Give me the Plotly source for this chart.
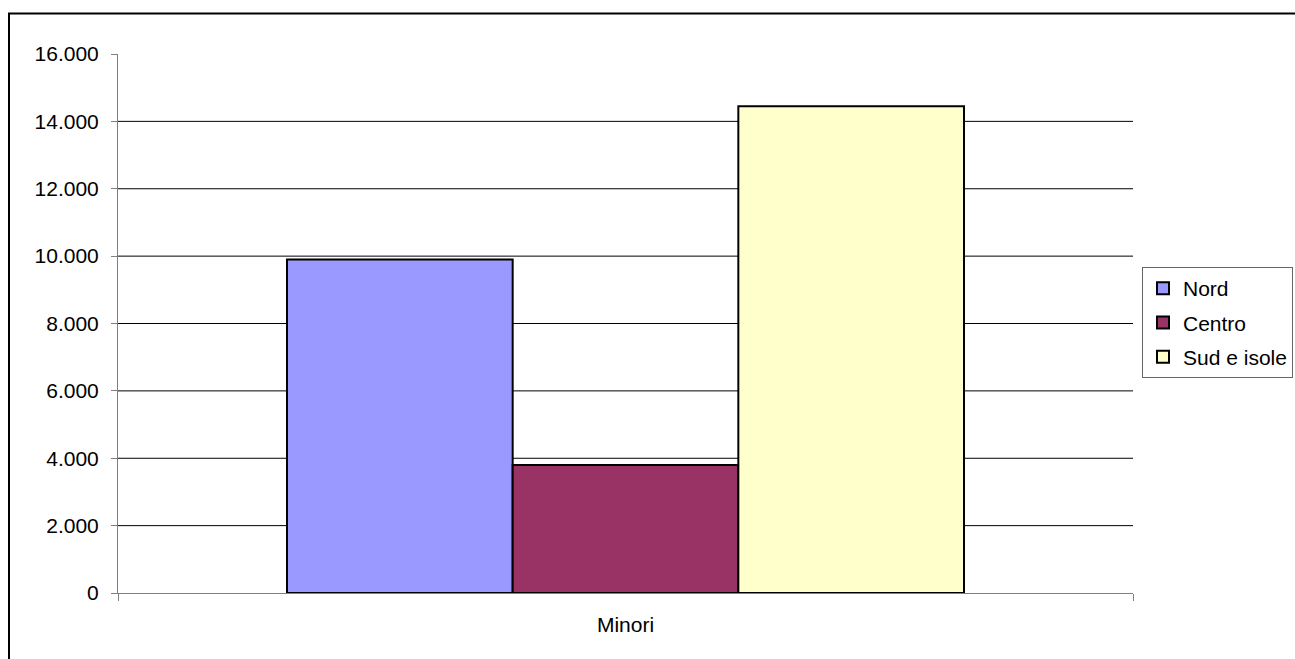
import plotly.graph_objects as go

categories = ["Minori"]
series_names = ["Nord", "Centro", "Sud e isole"]
series_values = [[9900], [3800], [14450]]
series_colors = ["#9999FF", "#993366", "#FFFFCC"]
y_ticks = [0, 2000, 4000, 6000, 8000, 10000, 12000, 14000, 16000]

FONT = "Liberation Sans, Arial, sans-serif"
W, H = 1295, 659
L, R, T, B = 118, 1133, 54, 593

fig = go.Figure()
for name, vals, col in zip(series_names, series_values, series_colors):
    fig.add_trace(go.Bar(
        x=categories, y=vals, name=name,
        marker=dict(color=col, line=dict(color="#000000", width=2)),
        legendgroup=name,
    ))

# gridlines (interior ticks only)
for v in y_ticks[1:-1]:
    fig.add_shape(type="line", xref="paper", x0=0, x1=1, yref="y", y0=v, y1=v,
                  line=dict(color="#000000", width=1), layer="below")

pw, ph = R - L, B - T
# outer chart border
fig.add_shape(type="rect", xref="paper", yref="paper",
              x0=(9 - L) / pw, x1=(W + 10 - L) / pw,
              y0=(B - (H + 10)) / ph, y1=(B - 13.5) / ph,
              line=dict(color="#000000", width=2), fillcolor="rgba(0,0,0,0)", layer="above")

fig.update_layout(
    width=W, height=H,
    margin=dict(l=L, r=W - R, t=T, b=H - B, pad=0, autoexpand=False),
    paper_bgcolor="white", plot_bgcolor="white",
    separators=",.",
    barmode="group", bargap=0.333, bargroupgap=0,
    font=dict(family=FONT, size=21, color="#000000"),
    showlegend=True,
    legend=dict(
        x=(1142 - L) / pw, y=(B - 267) / ph, xanchor="left", yanchor="top",
        bordercolor="#666666", borderwidth=1, bgcolor="white",
        font=dict(family=FONT, size=21, color="#000000"),
        itemwidth=30, traceorder="grouped", tracegroupgap=4,
    ),
    xaxis=dict(
        type="category", range=[-0.5, 0.5],
        showline=True, linecolor="#808080", linewidth=1,
        ticks="outside", tickson="boundaries", ticklen=7, tickcolor="#808080",
        ticklabelstandoff=13, showgrid=False, zeroline=False,
        tickfont=dict(family=FONT, size=21, color="#000000"),
    ),
    yaxis=dict(
        range=[0, 16000], tickvals=y_ticks, tickformat=",",
        showline=True, linecolor="#808080", linewidth=1,
        ticks="outside", ticklen=6, tickcolor="#808080",
        ticklabelstandoff=8, showgrid=False, zeroline=False,
        tickfont=dict(family=FONT, size=21, color="#000000"),
    ),
)

fig.write_html("out.html")
